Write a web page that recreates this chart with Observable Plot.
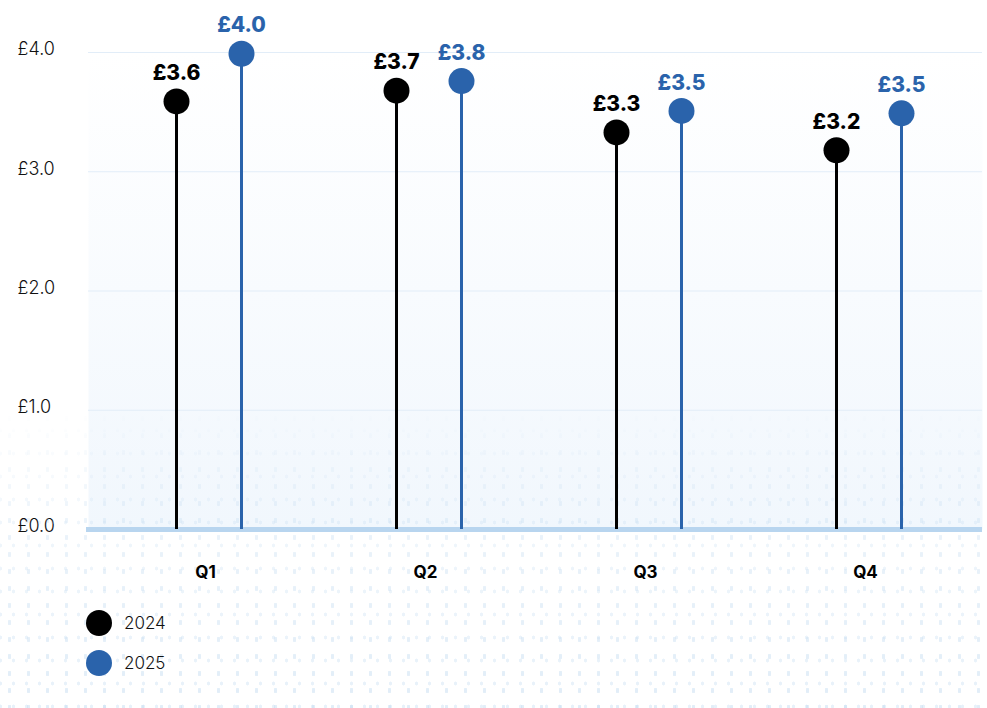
<!DOCTYPE html>
<html>
<head>
<meta charset="utf-8">
<script src="https://cdn.jsdelivr.net/npm/d3@7"></script>
<script src="https://cdn.jsdelivr.net/npm/@observablehq/plot@0.6"></script>
<style>
  html, body { margin: 0; padding: 0; background: #fff; }
  body { width: 987px; height: 708px; overflow: hidden; position: relative; font-family: Inter, "Noto Sans", sans-serif; }
  #dots {
    position: absolute; left: 0; top: 410px; width: 987px; height: 298px;
    background-image:
      radial-gradient(ellipse 2px 3px, rgba(176, 208, 236, 0.5) 80%, transparent 100%),
      radial-gradient(ellipse 1.5px 2.2px, rgba(176, 208, 236, 0.4) 80%, transparent 100%);
    background-size: 19px 17px, 13px 23px;
    background-position: 0 0, 7px 9px;
    -webkit-mask-image: linear-gradient(to bottom, rgba(0,0,0,0) 0%, rgba(0,0,0,0.5) 40%, rgba(0,0,0,0.75) 100%);
    mask-image: linear-gradient(to bottom, rgba(0,0,0,0) 0%, rgba(0,0,0,0.5) 40%, rgba(0,0,0,0.75) 100%);
    z-index: 1;
  }
  .layer { position: absolute; left: 0; top: 0; }
  #bg { z-index: 0; }
  #fg { z-index: 2; }
  #legend { position: absolute; left: 86px; top: 610px; z-index: 2; }
  .item { display: flex; align-items: center; height: 26px; margin-bottom: 14px; }
  .sw { width: 26px; height: 26px; border-radius: 50%; margin-right: 12px; }
  .lab { font-family: Inter, sans-serif; font-weight: 300; font-size: 17px; color: #111; }
</style>
</head>
<body>
<div id="bg" class="layer"></div>
<div id="dots"></div>
<div id="fg" class="layer"></div>
<div id="legend"></div>
<script>
const quarters = ["Q1", "Q2", "Q3", "Q4"];
const years = ["2024", "2025"];
const values2024 = [3.59, 3.68, 3.33, 3.18];
const values2025 = [3.99, 3.76, 3.51, 3.49];
const yTicks = [0, 1, 2, 3, 4];
const colors = ["#000000", "#2a63ab"];

const rows = [];
quarters.forEach((q, i) => {
  rows.push({quarter: q, year: years[0], value: values2024[i]});
  rows.push({quarter: q, year: years[1], value: values2025[i]});
});

const fmt = v => "£" + d3.format(".1f")(v);

const common = {
  width: 987,
  height: 600,
  marginTop: 52,
  marginBottom: 71,
  marginLeft: 86,
  marginRight: 5,
  style: {background: "transparent", overflow: "visible"},
  y: {domain: [0, 4], axis: null}
};

// Background layer: panel, gridlines, baseline, y tick labels
const bgPlot = Plot.plot({
  ...common,
  x: {axis: null},
  marks: [
    Plot.frame({fill: "url(#bgGrad)", stroke: "none", insetLeft: 2}),
    Plot.ruleY(yTicks.filter(d => d > 0), {stroke: "#e2edf8", strokeWidth: 1, insetLeft: 2}),
    Plot.ruleY([0], {stroke: "#b8d5ef", strokeWidth: 5}),
    Plot.text(yTicks, {
      y: d => d, text: d => fmt(d), frameAnchor: "left", textAnchor: "start",
      dx: -69, dy: -3, fontSize: 18, fontWeight: 300, fill: "#111",
      fontFamily: "Inter, sans-serif"
    })
  ]
});
d3.select(bgPlot).insert("defs", ":first-child").html(
  '<linearGradient id="bgGrad" x1="0" y1="0" x2="0" y2="1">' +
  '<stop offset="0%" stop-color="#ffffff"/>' +
  '<stop offset="100%" stop-color="#f1f7fd"/>' +
  '</linearGradient>'
);
document.getElementById("bg").appendChild(bgPlot);

// Foreground layer: faceted lollipops
const fgPlot = Plot.plot({
  ...common,
  fx: {domain: quarters, range: [98, 978], padding: 0, label: null, axis: null},
  x: {type: "point", domain: years, padding: 1.19, axis: null},
  color: {domain: years, range: colors},
  marks: [
    Plot.text(quarters, {
      fx: d => d, text: d => d, frameAnchor: "bottom", dx: -3, dy: 48,
      fontSize: 17, fontWeight: 700, fontFamily: "Inter, sans-serif", fill: "#000"
    }),
    Plot.ruleX(rows, {fx: "quarter", x: "year", y1: 0, y2: "value", stroke: "year", strokeWidth: 3}),
    Plot.dot(rows, {fx: "quarter", x: "year", y: "value", fill: "year", r: 13}),
    Plot.text(rows, {
      fx: "quarter", x: "year", y: "value", text: d => fmt(d.value), fill: "year",
      dy: -28, fontSize: 21, fontWeight: 800, fontFamily: "Inter, sans-serif"
    })
  ]
});
document.getElementById("fg").appendChild(fgPlot);

const legend = d3.select("#legend");
years.forEach((y, i) => {
  const item = legend.append("div").attr("class", "item");
  item.append("div").attr("class", "sw").style("background", colors[i]);
  item.append("span").attr("class", "lab").text(y);
});
</script>
</body>
</html>
